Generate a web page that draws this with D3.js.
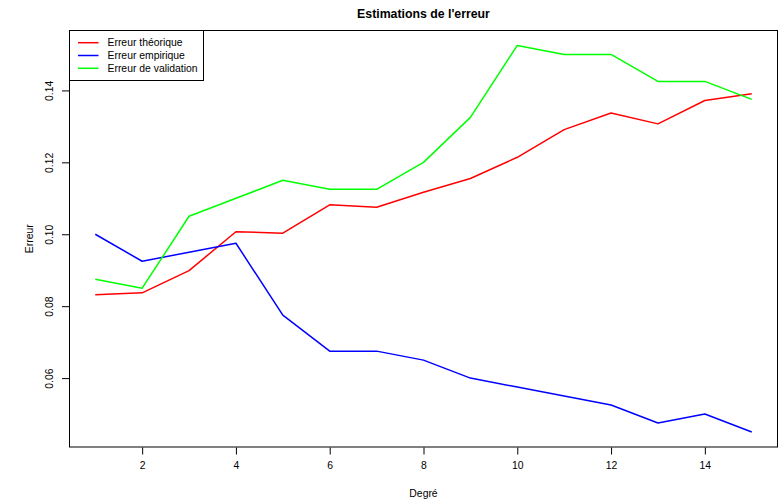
<!DOCTYPE html>
<html>
<head>
<meta charset="utf-8">
<script src="https://cdn.jsdelivr.net/npm/d3@7"></script>
<style>
  html, body { margin: 0; padding: 0; background: #fff; }
  svg { display: block; font-family: "Liberation Sans", Arial, sans-serif; }
</style>
</head>
<body>
<svg id="chart" width="780" height="501"></svg>
<script>
// Polynomial degree on the x axis
const degrees = [1, 2, 3, 4, 5, 6, 7, 8, 9, 10, 11, 12, 13, 14, 15];

// Error estimates per degree
const erreurTheorique = [0.0832, 0.0837, 0.0899, 0.1007, 0.1003, 0.1082, 0.1075, 0.1117, 0.1155, 0.1214, 0.1291, 0.1337, 0.1307, 0.1372, 0.1391];
const erreurEmpirique = [0.1000, 0.0925, 0.0950, 0.0975, 0.0775, 0.0675, 0.0675, 0.0650, 0.0600, 0.0575, 0.0550, 0.0525, 0.0475, 0.0500, 0.0450];
const erreurValidation = [0.0875, 0.0850, 0.1050, 0.1100, 0.1150, 0.1125, 0.1125, 0.1200, 0.1325, 0.1525, 0.1500, 0.1500, 0.1425, 0.1425, 0.1375];

const xTicks = [2, 4, 6, 8, 10, 12, 14];
const yTicks = [0.06, 0.08, 0.10, 0.12, 0.14];

const seriesNames = ["Erreur théorique", "Erreur empirique", "Erreur de validation"];
const seriesColors = ["#ff0000", "#0000ff", "#00ff00"];
const seriesValues = [erreurTheorique, erreurEmpirique, erreurValidation];

const svg = d3.select("#chart");
const box = { left: 69, right: 778, top: 30, bottom: 447.5 };
const fontSize = 10.4;

// Axis ranges padded by 4% on each side
const xMin = d3.min(degrees), xMax = d3.max(degrees);
const xPad = (xMax - xMin) * 0.04;
const allVals = seriesValues.flat();
const yMin = d3.min(allVals), yMax = d3.max(allVals);
const yPad = (yMax - yMin) * 0.04;

const x = d3.scaleLinear().domain([xMin - xPad, xMax + xPad]).range([box.left, box.right]);
const y = d3.scaleLinear().domain([yMin - yPad, yMax + yPad]).range([box.bottom, box.top]);

// Lines
const line = d3.line().x((d, i) => x(degrees[i])).y(d => y(d));
seriesValues.forEach((vals, k) => {
  svg.append("path")
    .datum(vals)
    .attr("fill", "none")
    .attr("stroke", seriesColors[k])
    .attr("stroke-width", 1.5)
    .attr("stroke-linejoin", "round")
    .attr("d", line);
});

// Plot frame
svg.append("rect")
  .attr("x", box.left + 0.5).attr("y", box.top + 0.5)
  .attr("width", box.right - box.left - 1).attr("height", box.bottom - box.top - 1)
  .attr("fill", "none").attr("stroke", "#000").attr("stroke-width", 1);

// X axis
const xAxis = d3.axisBottom(x).tickValues(xTicks).tickSize(7).tickPadding(7)
  .tickFormat(d3.format("d"));
const gx = svg.append("g").attr("transform", `translate(0,${box.bottom})`).call(xAxis);
gx.select(".domain").remove();
gx.selectAll("text").attr("font-size", fontSize).attr("font-family", "Liberation Sans, Arial, sans-serif").attr("fill", "#000");
gx.selectAll("line").attr("stroke", "#000");

// Y axis with vertical labels
const yAxis = d3.axisLeft(y).tickValues(yTicks).tickSize(7).tickFormat(d3.format(".2f"));
const gy = svg.append("g").attr("transform", `translate(${box.left},0)`).call(yAxis);
gy.select(".domain").remove();
gy.selectAll("line").attr("stroke", "#000");
gy.selectAll("text")
  .attr("font-size", fontSize)
  .attr("font-family", "Liberation Sans, Arial, sans-serif")
  .attr("fill", "#000")
  .attr("x", null).attr("dy", null)
  .attr("text-anchor", "middle")
  .attr("transform", "translate(-19.5,0) rotate(-90)")
  .attr("dy", "0.35em");

// Titles
svg.append("text")
  .attr("x", (box.left + box.right) / 2).attr("y", 18)
  .attr("text-anchor", "middle").attr("font-weight", "bold").attr("font-size", 12.3)
  .text("Estimations de l'erreur");

svg.append("text")
  .attr("x", (box.left + box.right) / 2).attr("y", 496.5)
  .attr("text-anchor", "middle").attr("font-size", fontSize)
  .text("Degré");

svg.append("text")
  .attr("transform", `translate(33,${(box.top + box.bottom) / 2}) rotate(-90)`)
  .attr("text-anchor", "middle").attr("font-size", fontSize)
  .text("Erreur");

// Legend
const legend = svg.append("g");
legend.append("rect")
  .attr("x", 69.5).attr("y", 30.5).attr("width", 134).attr("height", 50)
  .attr("fill", "#fff").attr("stroke", "#000").attr("stroke-width", 1);
seriesNames.forEach((name, k) => {
  const ry = 42.7 + k * 12.8;
  legend.append("line")
    .attr("x1", 78).attr("x2", 98.5).attr("y1", ry).attr("y2", ry)
    .attr("stroke", seriesColors[k]).attr("stroke-width", 1.5);
  legend.append("text")
    .attr("x", 107.5).attr("y", ry).attr("dy", "0.35em")
    .attr("font-size", fontSize)
    .text(name);
});
</script>
</body>
</html>
